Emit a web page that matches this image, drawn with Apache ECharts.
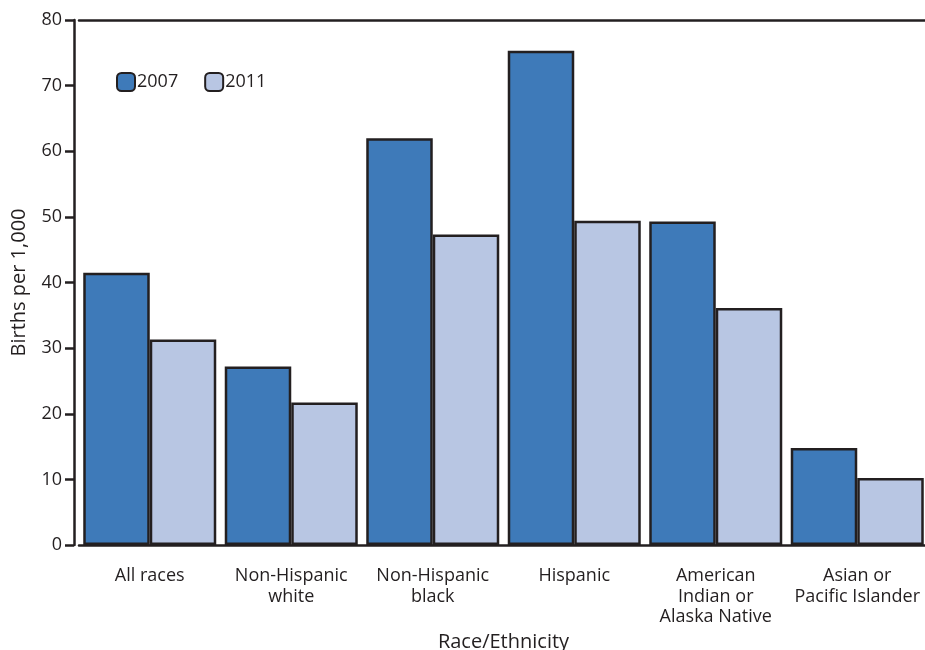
<!DOCTYPE html>
<html>
<head>
<meta charset="utf-8">
<script src="https://cdn.jsdelivr.net/npm/echarts@6/dist/echarts.min.js"></script>
<style>html,body{margin:0;padding:0;background:#fff}#c{width:925px;height:650px}</style>
</head>
<body>
<div id="c"></div>
<script>
const categories = ["All races", "Non-Hispanic\nwhite", "Non-Hispanic\nblack", "Hispanic", "American\nIndian or\nAlaska Native", "Asian or\nPacific Islander"];
const values2007 = [41.5, 27.2, 62.0, 75.3, 49.3, 14.8];
const values2011 = [31.3, 21.7, 47.3, 49.4, 36.1, 10.2];
const yTicks = {min: 0, max: 80, interval: 10};

const ink = '#231F20';
const font = 'Open Sans';
const chart = echarts.init(document.getElementById('c'), null, {renderer: 'canvas'});
chart.setOption({
  animation: false,
  backgroundColor: '#fff',
  textStyle: {fontFamily: font, color: ink},
  legend: {
    left: 111, top: 67,
    itemWidth: 18, itemHeight: 18, itemGap: 26,
    textStyle: {fontFamily: font, fontSize: 18, color: ink, padding: [0, 0, 0, -3]},
    data: ['2007', '2011']
  },
  grid: {left: 79, top: 20, width: 849, height: 525, containLabel: false, outerBoundsMode: 'none'},
  xAxis: [{
    type: 'category',
    data: categories,
    axisLine: {lineStyle: {color: ink, width: 2.5}},
    axisTick: {alignWithLabel: true, length: 8, lineStyle: {color: ink, width: 2.5}},
    axisLabel: {fontFamily: font, fontSize: 18, color: ink, lineHeight: 20.5, margin: 21, interval: 0},
    name: 'Race/Ethnicity', nameLocation: 'middle', nameGap: 87,
    nameTextStyle: {fontFamily: font, fontSize: 20, color: ink}
  }, {
    type: 'category', position: 'top', data: categories,
    axisLine: {lineStyle: {color: ink, width: 2.5}},
    axisTick: {show: false}, axisLabel: {show: false}
  }],
  yAxis: {
    type: 'value', min: yTicks.min, max: yTicks.max, interval: yTicks.interval,
    offset: 5,
    axisLine: {show: true, lineStyle: {color: ink, width: 2.5}},
    axisTick: {show: true, length: 9, lineStyle: {color: ink, width: 2.5}},
    splitLine: {show: false},
    axisLabel: {fontFamily: font, fontSize: 18, color: ink, margin: 12},
    name: 'Births per 1,000', nameLocation: 'middle', nameGap: 45, nameRotate: 90,
    nameTextStyle: {fontFamily: font, fontSize: 20, color: ink}
  },
  series: [{
    name: '2007', type: 'bar', data: values2007,
    barGap: '0%', barCategoryGap: '6%',
    itemStyle: {color: '#3E7AB9', borderColor: ink, borderWidth: 2.5}
  }, {
    name: '2011', type: 'bar', data: values2011,
    barGap: '0%', barCategoryGap: '6%',
    itemStyle: {color: '#B8C6E3', borderColor: ink, borderWidth: 2.5}
  }]
});
</script>
</body>
</html>
